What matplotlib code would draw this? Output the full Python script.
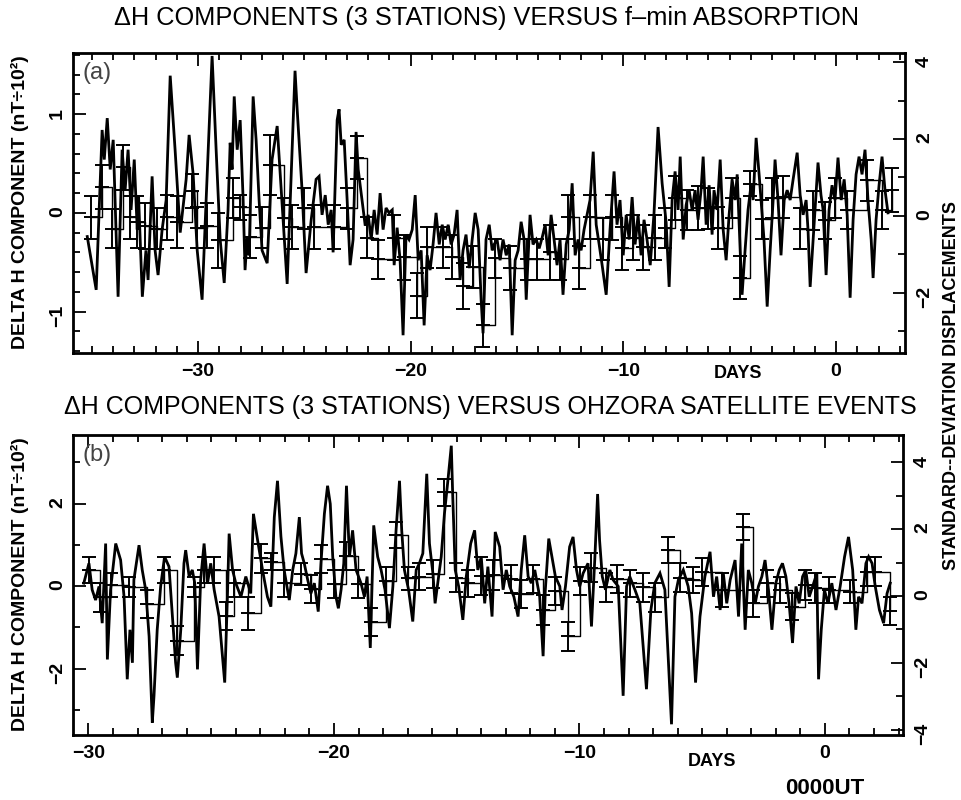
import matplotlib
matplotlib.use('Agg')
import numpy as np
import matplotlib.pyplot as plt
from matplotlib.ticker import MultipleLocator, FixedLocator

plt.rcParams['font.family'] = ['Liberation Sans', 'DejaVu Sans']

# ---- panel (a): delta H versus f-min absorption ----
a_days = [-35.21, -34.79, -34.51, -34.41, -34.27, -34.13, -33.99, -33.76, -33.57, -33.43,
          -33.29, -33.15, -33.0, -32.86, -32.8, -32.62, -32.45, -32.35, -32.16, -32.02,
          -31.88, -31.69, -31.5, -31.31, -31.08, -30.84, -30.56, -30.42, -30.23, -30.04,
          -29.81, -29.62, -29.34, -29.15, -28.96, -28.77, -28.59, -28.49, -28.4, -28.3,
          -28.16, -28.02, -27.88, -27.79, -27.69, -27.6, -27.41, -27.27, -27.13, -26.99,
          -26.75, -26.52, -26.28, -25.81, -25.44, -25.34, -25.11, -24.92, -24.68, -24.45,
          -24.31, -24.17, -24.02, -23.88, -23.74, -23.65, -23.46, -23.37, -23.27, -23.13,
          -22.99, -22.85, -22.71, -22.57, -22.47, -22.29, -22.14, -22.0, -21.86, -21.72,
          -21.58, -21.44, -21.3, -21.16, -21.02, -20.87, -20.78, -20.64, -20.5, -20.36,
          -20.22, -20.08, -19.93, -19.79, -19.65, -19.51, -19.37, -19.23, -19.09, -18.95,
          -18.81, -18.66, -18.52, -18.38, -18.24, -18.1, -17.96, -17.82, -17.68, -17.54,
          -17.4, -17.25, -17.11, -16.97, -16.83, -16.69, -16.6, -16.46, -16.31, -16.17,
          -16.08, -15.94, -15.8, -15.66, -15.51, -15.37, -15.23, -15.09, -14.95, -14.81,
          -14.67, -14.57, -14.39, -14.25, -14.1, -13.96, -13.82, -13.68, -13.54, -13.4,
          -13.26, -13.12, -12.98, -12.84, -12.69, -12.55, -12.41, -12.27, -12.13, -11.99,
          -11.85, -11.71, -11.57, -11.42, -11.28, -11.14, -11.0, -10.81, -10.63, -10.44,
          -10.3, -10.16, -10.01, -9.87, -9.73, -9.59, -9.45, -9.31, -9.17, -9.03,
          -8.89, -8.74, -8.56, -8.37, -8.18, -7.99, -7.85, -7.71, -7.57, -7.43,
          -7.33, -7.19, -7.05, -6.91, -6.77, -6.63, -6.49, -6.35, -6.25, -6.11,
          -5.97, -5.83, -5.74, -5.59, -5.45, -5.31, -5.17, -5.03, -4.89, -4.75,
          -4.65, -4.51, -4.42, -4.28, -4.14, -4.0, -3.9, -3.76, -3.62, -3.48,
          -3.39, -3.24, -3.1, -2.96, -2.87, -2.73, -2.59, -2.44, -2.3, -2.16,
          -2.02, -1.83, -1.69, -1.55, -1.41, -1.32, -1.22, -1.08, -0.99, -0.85,
          -0.71, -0.61, -0.47, -0.33, -0.19, -0.05, 0.09, 0.24, 0.38, 0.52,
          0.66, 0.8, 0.94, 1.08, 1.22, 1.36, 1.5, 1.65, 1.74, 1.88,
          2.02, 2.16, 2.3, 2.44]
a_dh = [-0.24, -0.78, 0.84, 0.54, 0.96, 0.44, 0.74, -0.85, 0.64, 0.23,
        0.64, 0.03, 0.54, -0.17, 0.18, -0.85, -0.38, -0.68, 0.37, -0.38,
        -0.63, -0.17, 0.13, 1.39, 0.64, -0.2, 0.34, 0.79, 0.39, -0.38,
        -0.88, 0.13, 1.59, 0.64, -0.27, -0.71, 0.03, 0.71, 0.44, 1.18,
        0.64, 0.94, 0.13, -0.58, -0.24, -0.43, 1.18, 0.74, 0.13, -0.38,
        -0.51, 0.54, 0.88, -0.72, 1.44, 1.05, 0.23, -0.61, -0.07, 0.34,
        0.37, -0.02, 0.18, -0.12, 0.03, -0.4, 0.94, 1.05, 0.69, 0.74,
        0.13, -0.53, -0.27, 0.82, 0.44, 0.13, -0.13, -0.02, -0.27, 0.03,
        -0.22, 0.2, -0.17, 0.05, 0.0, 0.03, -0.53, -0.15, -0.48, -1.24,
        -0.22, -0.27, -0.17, 0.18, -0.48, -0.38, -1.14, -0.43, -0.58, -0.32,
        0.0, -0.32, -0.12, -0.27, -0.12, -0.32, -0.22, 0.03, -0.68, -0.38,
        -0.22, -0.56, -0.27, 0.0, -0.17, -0.88, -1.22, -0.27, -0.12, -0.38,
        -0.32, -0.27, -0.48, -0.27, -0.43, -0.32, -1.24, -0.48, -0.38, -0.09,
        -0.27, -0.88, -0.02, -0.32, -0.27, -0.36, -0.25, -0.12, -0.43, -0.02,
        -0.27, -0.53, -0.27, -0.83, -0.32, -0.17, 0.3, -0.43, -0.27, -0.38,
        -0.17, -0.02, 0.13, 0.62, -0.12, -0.32, -0.53, -0.83, -0.17, 0.42,
        -0.12, 0.13, -0.43, -0.02, -0.27, 0.16, -0.32, -0.02, -0.43, -0.07,
        -0.27, -0.53, 0.0, 0.87, 0.3, -0.1, -0.75, 0.13, 0.42, 0.03,
        0.57, -0.27, 0.08, 0.23, 0.03, 0.23, -0.07, 0.23, 0.57, -0.12,
        0.28, -0.22, 0.23, 0.03, 0.54, -0.17, -0.48, -0.02, 0.34, 0.13,
        0.39, -0.38, -0.83, -0.38, 0.03, 0.28, 0.13, 0.76, 0.39, -0.02,
        -0.27, -0.95, -0.38, 0.13, 0.54, 0.13, -0.43, 0.13, 0.23, 0.13,
        0.34, 0.61, 0.18, -0.02, 0.13, -0.17, -0.75, -0.27, 0.03, 0.51,
        0.18, 0.03, -0.63, 0.03, 0.28, 0.13, 0.56, 0.13, 0.34, -0.02,
        -0.86, -0.07, 0.39, 0.57, 0.39, 0.64, 0.13, -0.27, -0.66, -0.07,
        0.28, 0.57, 0.23, 0.0]

# error bars (upper / lower ends) of the binned means, panel (a)
a_err_x = [-35.04, -34.52, -34.05, -33.51, -33.19, -32.88, -32.49, -31.94, -31.47, -31.0,
           -30.3, -30.06, -29.59, -29.05, -28.34, -28.02, -27.55, -27.0, -26.61, -25.98,
           -25.59, -25.04, -24.57, -23.63, -23.0, -22.53, -22.06, -21.55, -20.81, -20.34,
           -19.71, -19.24, -18.46, -18.07, -17.55, -17.08, -16.58, -16.03, -15.33, -14.54,
           -14.07, -13.45, -12.98, -12.59, -12.07, -11.57, -10.94, -10.55, -10.08, -9.53,
           -9.06, -8.51, -8.04, -7.57, -7.02, -6.47, -6.0, -5.53, -4.9, -4.51,
           -4.04, -3.49, -3.02, -2.48, -1.69, -1.07, -0.52, -0.05, 0.5, 1.44,
           2.15, 2.62]
a_err_hi = [0.17, 0.49, 0.04, 0.69, 0.17, 0.17, 0.1, 0.05, 0.18, 0.17,
            0.39, 0.06, 0.1, 0.0, 0.35, 0.18, -0.02, 0.06, 0.79, 0.15,
            0.08, 0.25, 0.08, 0.08, 0.25, 0.78, -0.04, -0.27, -0.02, -0.22,
            -0.61, -0.14, -0.14, -0.22, -0.51, -0.34, -0.92, -0.26, -0.34, -0.26,
            -0.26, -0.12, -0.26, 0.18, -0.34, 0.18, -0.05, 0.18, -0.14, -0.02,
            -0.12, -0.02, 0.05, 0.37, 0.23, 0.27, 0.25, 0.06, 0.35, -0.44,
            0.42, 0.13, 0.35, 0.37, 0.05, 0.22, 0.11, 0.35, 0.22, 0.54,
            0.22, 0.45]
a_err_lo = [-0.26, 0.04, -0.36, 0.23, -0.26, -0.36, -0.37, -0.37, -0.27, -0.36,
            0.05, -0.36, -0.36, -0.56, -0.05, -0.07, -0.46, -0.36, 0.18, -0.26,
            -0.37, -0.16, -0.37, -0.37, -0.16, 0.34, -0.46, -0.67, -0.48, -0.68,
            -1.07, -0.56, -0.56, -0.67, -0.97, -0.76, -1.36, -0.66, -0.78, -0.68,
            -0.68, -0.68, -0.68, -0.26, -0.77, -0.26, -0.48, -0.27, -0.58, -0.48,
            -0.58, -0.48, -0.36, -0.07, -0.17, -0.17, -0.16, -0.37, -0.05, -0.87,
            0.17, -0.26, -0.05, -0.05, -0.37, -0.17, -0.26, -0.05, -0.16, 0.12,
            -0.16, 0.01]

# ---- panel (b): delta H versus Ohzora satellite events ----
b_days = [-30.19, -29.98, -29.85, -29.71, -29.57, -29.44, -29.3, -29.23, -29.1, -28.89,
          -28.69, -28.55, -28.42, -28.31, -28.21, -28.15, -27.94, -27.81, -27.67, -27.53,
          -27.4, -27.33, -27.2, -27.06, -26.9, -26.72, -26.58, -26.45, -26.38, -26.24,
          -26.11, -26.04, -25.9, -25.77, -25.67, -25.56, -25.43, -25.29, -25.15, -25.02,
          -24.88, -24.68, -24.45, -24.34, -24.27, -24.13, -24.0, -23.79, -23.59, -23.39,
          -23.28, -23.11, -22.91, -22.71, -22.57, -22.43, -22.3, -22.16, -22.03, -21.82,
          -21.68, -21.55, -21.41, -21.32, -21.21, -21.07, -20.94, -20.8, -20.64, -20.53,
          -20.39, -20.26, -20.15, -20.05, -19.92, -19.82, -19.71, -19.6, -19.49, -19.37,
          -19.24, -19.1, -18.9, -18.76, -18.65, -18.52, -18.38, -18.22, -18.08, -17.92,
          -17.74, -17.6, -17.47, -17.33, -17.24, -17.13, -16.96, -16.79, -16.65, -16.52,
          -16.38, -16.22, -16.11, -15.97, -15.88, -15.77, -15.63, -15.5, -15.36, -15.22,
          -15.16, -15.06, -14.92, -14.75, -14.61, -14.43, -14.27, -14.14, -14.0, -13.86,
          -13.73, -13.56, -13.43, -13.25, -13.11, -12.98, -12.84, -12.67, -12.5, -12.37,
          -12.23, -12.09, -11.96, -11.82, -11.62, -11.48, -11.39, -11.25, -11.12, -10.98,
          -10.8, -10.71, -10.57, -10.4, -10.26, -10.12, -9.99, -9.85, -9.65, -9.51,
          -9.37, -9.26, -9.18, -9.07, -8.94, -8.76, -8.63, -8.42, -8.22, -8.08,
          -7.95, -7.74, -7.54, -7.27, -7.09, -6.93, -6.72, -6.52, -6.25, -6.11,
          -5.97, -5.77, -5.57, -5.43, -5.27, -5.09, -4.89, -4.68, -4.54, -4.41,
          -4.27, -4.14, -4.0, -3.86, -3.66, -3.52, -3.39, -3.25, -3.12, -2.98,
          -2.84, -2.71, -2.57, -2.44, -2.3, -2.16, -2.0, -1.86, -1.73, -1.59,
          -1.46, -1.32, -1.18, -1.05, -0.91, -0.78, -0.64, -0.5, -0.33, -0.26,
          -0.15, -0.02, 0.12, 0.28, 0.45, 0.62, 0.8, 0.96, 1.13, 1.26,
          1.37, 1.51, 1.67, 1.78, 1.92, 2.05, 2.22, 2.39, 2.53, 2.66]
b_dh = [0.07, 0.55, -0.09, -0.34, -0.01, -0.9, 1.03, -1.78, -0.09, 1.03,
        0.63, -0.26, -2.26, -1.06, -1.86, 0.15, 0.99, 0.39, -0.09, -1.22,
        -3.31, -2.66, -1.06, -0.01, 0.71, 0.47, -0.74, -1.86, -2.22, -1.06,
        0.55, 0.87, 0.23, 0.39, 0.07, -2.02, 0.15, 1.03, 0.07, 0.55,
        -0.09, -0.74, -2.34, -0.26, 1.27, 0.39, 0.07, -0.26, 0.23, -0.18,
        1.75, 1.11, 0.39, -0.26, -0.5, 1.67, 2.55, 1.2, 0.39, -0.34,
        0.39, 0.79, 1.67, 0.79, 0.55, 0.15, -0.18, 0.07, -0.62, 0.55,
        1.75, 2.43, 1.99, 0.71, -0.26, -0.54, -0.09, 0.55, 2.43, 0.71,
        1.35, 0.39, 0.07, -0.26, 0.23, -1.5, 1.47, 0.71, 0.39, -0.09,
        -1.02, -0.01, 1.35, 2.55, 1.35, 0.39, -0.09, -0.86, 0.39, 0.55,
        0.79, 2.72, 1.03, 0.31, -0.42, 0.07, 0.71, 1.75, 2.55, 3.4,
        2.15, 0.39, -0.01, -0.82, 0.23, 1.03, 1.35, 0.39, 0.71, -0.42,
        0.47, -0.74, 1.31, 0.95, -0.09, 0.39, -0.01, -0.26, -0.74, 0.39,
        1.23, 0.23, 0.07, 0.39, -0.26, -1.7, -0.09, 1.15, 0.71, 0.23,
        -0.01, -0.58, -0.01, 0.95, 1.19, 0.39, -0.01, 0.31, 0.55, -0.98,
        0.71, 2.23, 1.11, 0.23, -0.09, 0.39, 0.15, -0.01, -2.66, -0.01,
        0.23, -0.09, -0.42, -2.5, -0.58, 0.07, 0.31, -0.09, -3.35, -0.26,
        0.15, 0.39, -0.01, -0.66, -2.34, -0.74, 0.23, 0.83, -0.26, 0.23,
        -0.58, 0.31, -0.42, 0.15, 0.63, -0.74, 1.03, -1.06, 0.39, 0.07,
        -0.42, -0.01, 0.23, 0.63, -0.09, -1.06, 0.07, 0.39, 0.55, 0.23,
        -0.42, -1.38, -0.01, -0.42, 0.23, 0.39, -0.26, -0.01, 0.31, -2.26,
        -1.06, -0.09, -0.42, 0.07, -0.58, -0.01, 0.71, 1.19, 0.39, -1.06,
        -0.26, -0.42, 0.55, 0.71, 0.55, -0.01, -0.58, -0.9, -0.18, 0.07]

b_err_x = [-29.98, -29.51, -29.1, -28.35, -27.6, -26.92, -26.38, -25.7, -25.29, -24.88,
           -24.41, -24.07, -23.52, -22.98, -22.57, -22.03, -21.34, -20.94, -20.53, -19.98,
           -19.51, -19.03, -18.49, -17.88, -17.47, -16.99, -16.52, -15.97, -15.5, -15.02,
           -14.54, -14.0, -13.52, -12.77, -12.37, -11.89, -11.48, -11.01, -10.46, -9.99,
           -9.51, -8.9, -8.49, -7.95, -7.4, -6.93, -6.38, -5.91, -5.36, -5.02,
           -4.2, -3.32, -2.91, -2.37, -1.82, -1.35, -0.8, -0.4, 0.15, 1.03,
           1.71, 2.05, 2.66]
b_err_hi = [0.71, 0.07, 0.31, 0.23, -0.09, 0.71, -0.98, 0.23, 0.71, 0.71,
            -0.38, 0.39, -0.26, 1.03, 0.79, 0.39, 0.55, 0.27, 0.99, 0.39,
            1.07, 0.39, -0.54, 0.47, 1.55, 0.47, 0.55, 0.63, 2.59, 0.55,
            0.39, 0.71, 0.63, 0.51, 0.15, 0.51, -0.22, 0.23, -0.86, 0.47,
            0.79, 0.31, 0.51, 0.39, 0.31, 0.07, 1.19, 0.55, 0.47, 0.67,
            0.31, 1.75, -0.1, 0.39, 0.23, -0.18, 0.39, 0.31, 0.23, 0.15,
            0.71, 0.71, -0.26]
b_err_lo = [0.07, -0.62, -0.26, -0.26, -0.78, 0.07, -1.66, -0.26, 0.07, 0.07,
            -1.06, -0.26, -1.06, 0.31, 0.39, -0.26, 0.02, -0.42, 0.31, -0.3,
            0.39, -0.3, -1.22, -0.22, 0.91, -0.1, -0.1, -0.05, 1.95, -0.14,
            -0.26, -0.22, -0.1, -0.18, -0.54, -0.18, -0.94, -0.46, -1.58, -0.22,
            0.1, -0.38, -0.18, -0.26, -0.38, -0.62, 0.55, -0.14, -0.18, -0.01,
            -0.5, 1.11, -0.74, -0.26, -0.42, -0.82, -0.34, -0.42, -0.42, -0.42,
            -0.01, -0.01, -0.94]

title_a = '\u0394H COMPONENTS (3 STATIONS) VERSUS f\u2013min ABSORPTION'
title_b = '\u0394H COMPONENTS (3 STATIONS) VERSUS OHZORA SATELLITE EVENTS'
ylabel_left = 'DELTA H COMPONENT (nT\u00f710\u00b2)'
ylabel_right = 'STANDARD--DEVIATION DISPLACEMENTS'


def draw_panel(ax, days, dh, err_x, err_hi, err_lo, xlim, ylim, ylim_r,
               yticks, yminor, rticks, letter):
    hi = np.array(err_hi)
    lo = np.array(err_lo)
    mid = (hi + lo) / 2
    ax.plot(days, dh, color='black', lw=2.0, solid_joinstyle='miter')
    # binned means with +/- one standard deviation
    ax.plot(err_x, mid, color='black', lw=1.0, drawstyle='steps-post')
    ax.errorbar(err_x, mid, yerr=(hi - lo) / 2, fmt='_', ms=10, mew=1.4, color='black',
                ecolor='black', elinewidth=1.4, capsize=5, capthick=1.4)
    ax.set_xlim(*xlim)
    ax.set_ylim(*ylim)
    ax.xaxis.set_major_locator(FixedLocator([-30, -20, -10, 0]))
    ax.xaxis.set_minor_locator(MultipleLocator(1))
    ax.yaxis.set_major_locator(FixedLocator(yticks))
    ax.yaxis.set_minor_locator(MultipleLocator(yminor))
    ax.tick_params(which='both', direction='in', top=True, right=False, width=1.3)
    ax.tick_params(which='major', length=9)
    ax.tick_params(which='minor', length=5)
    ax.tick_params(axis='x', pad=7, labelsize=14)
    ax.tick_params(axis='y', labelrotation=90, pad=5, labelsize=14)
    for lab in ax.get_xticklabels() + ax.get_yticklabels():
        lab.set_fontweight('bold')
    for sp in ax.spines.values():
        sp.set_linewidth(2)
    ax.text(0.012, 0.97, letter, transform=ax.transAxes, ha='left', va='top',
            fontsize=17, color='#444444')

    axr = ax.twinx()
    axr.set_ylim(*ylim_r)
    axr.yaxis.set_major_locator(FixedLocator(rticks))
    axr.yaxis.set_minor_locator(MultipleLocator(1))
    axr.tick_params(which='both', direction='in', width=1.3)
    axr.tick_params(which='major', length=9)
    axr.tick_params(which='minor', length=5)
    axr.tick_params(axis='y', labelrotation=90, pad=8, labelsize=14)
    for lab in axr.get_yticklabels():
        lab.set_fontweight('bold')
    return axr


fig = plt.figure(figsize=(9.61, 8), dpi=100)
ax_a = fig.add_axes([73 / 961, 1 - 353 / 800, 832 / 961, 300 / 800])
ax_b = fig.add_axes([73 / 961, 1 - 735 / 800, 830 / 961, 300 / 800])

draw_panel(ax_a, a_days, a_dh, a_err_x, a_err_hi, a_err_lo,
           (-35.88, 3.24), (-1.42, 1.62), (-3.57, 4.24), [-1, 0, 1], 0.2,
           [-2, 0, 2, 4], '(a)')
draw_panel(ax_b, b_days, b_dh, b_err_x, b_err_hi, b_err_lo,
           (-30.63, 3.18), (-3.61, 3.66), (-4.16, 4.82), [-2, 0, 2], 1,
           [-4, -2, 0, 2, 4], '(b)')

ax_a.text(-4.6, -0.07, 'DAYS', transform=ax_a.get_xaxis_transform(),
          ha='center', va='center', fontsize=13, fontweight='bold')
ax_b.text(-4.6, -0.09, 'DAYS', transform=ax_b.get_xaxis_transform(),
          ha='center', va='center', fontsize=13, fontweight='bold')
ax_b.text(0, -0.177, '0000UT', transform=ax_b.get_xaxis_transform(),
          ha='center', va='center', fontsize=16, fontweight='bold')

fig.text(487 / 961, 1 - 18 / 800, title_a, ha='center', va='center', fontsize=18.3)
fig.text(490 / 961, 1 - 407 / 800, title_b, ha='center', va='center', fontsize=18)
fig.text(20 / 961, 1 - 202 / 800, ylabel_left, rotation=90, ha='center', va='center',
         fontsize=14, fontweight='bold')
fig.text(20 / 961, 1 - 584 / 800, ylabel_left, rotation=90, ha='center', va='center',
         fontsize=14, fontweight='bold')
fig.text(952 / 961, 1 - 385 / 800, ylabel_right, rotation=90, ha='center', va='center',
         fontsize=13, fontweight='bold')

fig.savefig('out.png', dpi=100)
